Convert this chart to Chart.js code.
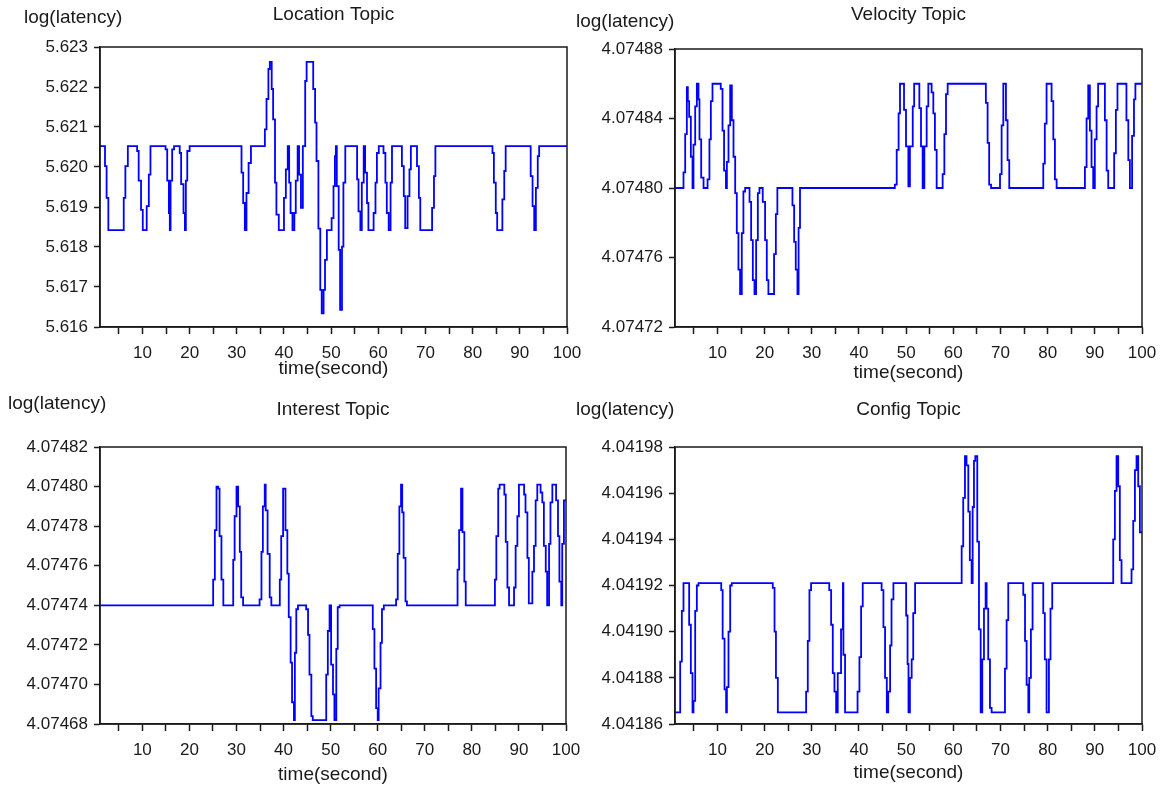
<!DOCTYPE html>
<html>
<head>
<meta charset="utf-8">
<title>log(latency) per topic</title>
<script src="https://cdn.jsdelivr.net/npm/chart.js@4.4.0/dist/chart.umd.min.js"></script>
<style>
  body { margin: 0; background: #fff; }
  #wrap { position: relative; width: 1163px; height: 788px; }
  canvas { position: absolute; }
</style>
</head>
<body>
<div id="wrap">
  <canvas id="location" width="581" height="394" style="left:0;top:0"></canvas>
  <canvas id="velocity" width="593" height="394" style="left:570px;top:0"></canvas>
  <canvas id="interest" width="581" height="394" style="left:0;top:394px"></canvas>
  <canvas id="config" width="593" height="394" style="left:570px;top:394px"></canvas>
</div>
<script>
// x axis ticks (labels only on multiples of 10)
const xTicks = [5, 10, 15, 20, 25, 30, 35, 40, 45, 50, 55, 60, 65, 70, 75, 80, 85, 90, 95, 100];

// Location topic
const locationTicks = [5.616, 5.617, 5.618, 5.619, 5.620, 5.621, 5.622, 5.623];
const locationTime = [
  1, 2.06, 2.4, 2.77, 6.03, 6.38, 6.9, 8.87, 9.2, 9.7,
  10.07, 10.9, 11.35, 11.7, 14.9, 15.25, 15.6, 15.8, 15.96, 16.3,
  16.7, 17.9, 18.2, 18.7, 19.0, 19.2, 19.5, 20.0, 31.0, 31.35,
  31.7, 32.05, 32.5, 33.0, 35.95, 36.3, 36.7, 37.0, 37.4, 37.7,
  38.1, 38.4, 38.9, 40.0, 40.4, 40.8, 41.1, 41.4, 41.8, 42.2,
  42.5, 42.9, 43.2, 43.6, 44.0, 44.5, 44.8, 46.2, 46.6, 46.9,
  47.3, 47.7, 48.0, 48.4, 48.7, 49.1, 50.1, 50.5, 50.8, 51.0,
  51.2, 51.6, 51.9, 52.3, 52.6, 53.0, 55.5, 55.8, 56.2, 56.5,
  56.9, 57.2, 57.6, 57.9, 59.0, 59.4, 59.7, 60.1, 61.1, 61.5,
  61.8, 62.2, 62.6, 62.9, 65.0, 65.4, 65.7, 66.2, 66.6, 66.9,
  68.2, 68.6, 68.9, 71.4, 71.8, 72.1, 84.2, 84.5, 84.9, 85.2,
  86.3, 86.7, 87.0, 92.3, 92.7, 93.05, 93.4, 93.8, 94.1, 100
];
const locationLatency = [
  5.62052, 5.62002, 5.61923, 5.61842, 5.61923, 5.62002, 5.62052, 5.62040, 5.61966, 5.61893,
  5.61842, 5.61902, 5.61981, 5.62052, 5.62044, 5.61966, 5.61885, 5.61842, 5.61966, 5.62044,
  5.62052, 5.62035, 5.61957, 5.61885, 5.61842, 5.61966, 5.62040, 5.62052, 5.61986, 5.61910,
  5.61842, 5.61935, 5.62010, 5.62052, 5.62094, 5.62170, 5.62245, 5.62263, 5.62195, 5.62119,
  5.61961, 5.61881, 5.61842, 5.61923, 5.61994, 5.62052, 5.61961, 5.61885, 5.61842, 5.61885,
  5.61966, 5.62052, 5.61981, 5.61898, 5.62052, 5.62215, 5.62263, 5.62195, 5.62111, 5.62015,
  5.61846, 5.61693, 5.61634, 5.61693, 5.61768, 5.61842, 5.61872, 5.61952, 5.62027, 5.62052,
  5.61952, 5.61793, 5.61643, 5.61801, 5.61961, 5.62052, 5.61969, 5.61889, 5.61842, 5.61961,
  5.62052, 5.61986, 5.61910, 5.61842, 5.61885, 5.61961, 5.62035, 5.62052, 5.62035, 5.61961,
  5.61885, 5.61842, 5.61961, 5.62052, 5.62002, 5.61927, 5.61847, 5.61927, 5.61994, 5.62052,
  5.62002, 5.61923, 5.61842, 5.61898, 5.61977, 5.62052, 5.62035, 5.61961, 5.61885, 5.61842,
  5.61919, 5.61990, 5.62052, 5.61977, 5.61902, 5.61842, 5.61948, 5.62027, 5.62052, 5.62052
];

// Velocity topic
const velocityTicks = [4.07472, 4.07476, 4.07480, 4.07484, 4.07488];
const velocityTime = [
  1, 2.8, 3.16, 3.51, 3.72, 4.0, 4.36, 4.71, 4.92, 5.28,
  5.63, 5.98, 6.19, 6.55, 7.05, 7.9, 8.3, 8.6, 8.95, 10.7,
  11.07, 11.4, 11.8, 12.0, 12.34, 12.7, 13.05, 13.4, 13.76, 14.1,
  14.45, 14.8, 15.16, 15.5, 15.87, 16.8, 17.14, 17.5, 17.85, 18.2,
  18.56, 18.9, 19.6, 20.1, 20.46, 20.8, 22.0, 22.38, 22.7, 25.9,
  26.26, 26.6, 26.96, 27.2, 27.5, 47.6, 48.0, 48.4, 48.7, 49.55,
  49.97, 50.47, 50.8, 51.4, 51.7, 52.8, 53.15, 53.5, 53.86, 54.35,
  54.7, 55.4, 55.76, 56.1, 56.47, 57.74, 58.1, 58.45, 58.8, 66.9,
  67.27, 67.6, 68.0, 69.9, 70.24, 70.6, 71.16, 71.5, 71.86, 79.07,
  79.4, 79.77, 80.83, 81.2, 81.54, 81.9, 87.9, 88.25, 88.6, 88.95,
  89.3, 89.66, 90.0, 90.37, 90.7, 92.13, 92.5, 92.84, 94.1, 94.46,
  94.8, 96.7, 97.1, 97.43, 97.9, 98.3, 98.6, 100
];
const velocityLatency = [
  4.074800, 4.074809, 4.074831, 4.074858, 4.074850, 4.074841, 4.074818, 4.074800, 4.074825, 4.074847,
  4.074860, 4.074851, 4.074828, 4.074806, 4.074800, 4.074805, 4.074828, 4.074850, 4.074860, 4.074857,
  4.074833, 4.074810, 4.074800, 4.074815, 4.074836, 4.074859, 4.074839, 4.074818, 4.074797, 4.074774,
  4.074753, 4.074739, 4.074774, 4.074798, 4.074800, 4.074792, 4.074770, 4.074747, 4.074739, 4.074770,
  4.074797, 4.074800, 4.074792, 4.074770, 4.074747, 4.074739, 4.074762, 4.074785, 4.074800, 4.074790,
  4.074769, 4.074753, 4.074739, 4.074777, 4.074800, 4.074802, 4.074822, 4.074843, 4.074860, 4.074845,
  4.074824, 4.074801, 4.074824, 4.074847, 4.074860, 4.074846, 4.074824, 4.074800, 4.074824, 4.074847,
  4.074860, 4.074855, 4.074843, 4.074822, 4.074800, 4.074808, 4.074831, 4.074854, 4.074860, 4.074849,
  4.074826, 4.074802, 4.074800, 4.074808, 4.074836, 4.074860, 4.074839, 4.074816, 4.074800, 4.074814,
  4.074837, 4.074860, 4.074850, 4.074828, 4.074805, 4.074800, 4.074812, 4.074840, 4.074859, 4.074833,
  4.074812, 4.074800, 4.074828, 4.074847, 4.074860, 4.074839, 4.074810, 4.074800, 4.074820, 4.074845,
  4.074860, 4.074839, 4.074816, 4.074800, 4.074830, 4.074851, 4.074860, 4.074860
];

// Interest topic
const interestTicks = [4.07468, 4.07470, 4.07472, 4.07474, 4.07476, 4.07478, 4.07480, 4.07482];
const interestTime = [
  1, 25.04, 25.4, 25.75, 26.1, 26.4, 26.8, 27.2, 29.3, 29.6,
  30.0, 30.35, 30.7, 31.0, 31.4, 34.9, 35.3, 35.6, 36.0, 36.2,
  36.6, 37.05, 37.4, 39.2, 39.5, 39.9, 40.4, 40.8, 41.1, 41.5,
  41.8, 42.2, 42.4, 42.7, 43.06, 44.8, 45.2, 45.5, 45.9, 46.2,
  49.06, 49.4, 49.77, 50.1, 50.5, 50.8, 51.2, 51.5, 51.9, 58.95,
  59.3, 59.66, 60.0, 60.2, 60.6, 60.9, 61.3, 63.9, 64.25, 64.6,
  64.95, 65.2, 65.5, 65.9, 66.2, 76.96, 77.3, 77.7, 78.0, 78.4,
  78.7, 84.9, 85.2, 85.6, 85.9, 86.9, 87.2, 87.55, 87.9, 88.96,
  89.3, 89.67, 90.0, 91.1, 91.4, 91.8, 92.1, 92.85, 93.2, 93.55,
  93.9, 94.6, 94.97, 95.3, 95.7, 96.0, 96.4, 96.7, 97.1, 97.9,
  98.3, 98.6, 99.0, 99.2, 99.56, 100
];
const interestLatency = [
  4.074740, 4.074753, 4.074778, 4.074800, 4.074799, 4.074775, 4.074753, 4.074740, 4.074763, 4.074785,
  4.074800, 4.074790, 4.074767, 4.074744, 4.074740, 4.074743, 4.074767, 4.074790, 4.074801, 4.074788,
  4.074766, 4.074744, 4.074740, 4.074753, 4.074775, 4.074799, 4.074778, 4.074756, 4.074734, 4.074711,
  4.074691, 4.074682, 4.074716, 4.074738, 4.074740, 4.074738, 4.074725, 4.074705, 4.074684, 4.074682,
  4.074705, 4.074727, 4.074740, 4.074710, 4.074695, 4.074682, 4.074718, 4.074739, 4.074740, 4.074728,
  4.074708, 4.074688, 4.074682, 4.074698, 4.074721, 4.074738, 4.074740, 4.074743, 4.074766, 4.074790,
  4.074801, 4.074787, 4.074764, 4.074742, 4.074740, 4.074758, 4.074778, 4.074799, 4.074777, 4.074752,
  4.074740, 4.074753, 4.074775, 4.074799, 4.074801, 4.074796, 4.074772, 4.074749, 4.074740, 4.074749,
  4.074770, 4.074785, 4.074801, 4.074796, 4.074787, 4.074764, 4.074741, 4.074757, 4.074770, 4.074793,
  4.074801, 4.074797, 4.074792, 4.074770, 4.074757, 4.074740, 4.074771, 4.074792, 4.074801, 4.074793,
  4.074775, 4.074752, 4.074740, 4.074771, 4.074793, 4.074793
];

// Config topic
const configTicks = [4.04186, 4.04188, 4.04190, 4.04192, 4.04194, 4.04196, 4.04198];
const configTime = [
  1, 2.1, 2.45, 2.8, 4.0, 4.36, 4.71, 4.92, 5.28, 5.63,
  5.98, 10.8, 11.1, 11.5, 11.84, 12.0, 12.34, 12.7, 13.04, 21.73,
  22.1, 22.4, 22.8, 28.8, 29.15, 29.5, 29.85, 33.7, 34.1, 34.45,
  34.8, 35.16, 35.5, 36.2, 36.6, 36.7, 37.05, 39.7, 40.1, 40.45,
  40.8, 44.8, 45.18, 45.53, 45.9, 46.2, 46.6, 46.9, 47.3, 50.0,
  50.3, 50.5, 50.8, 51.17, 51.5, 51.9, 61.77, 62.1, 62.47, 62.8,
  63.18, 63.5, 63.88, 64.1, 64.38, 64.66, 65.08, 65.44, 65.8, 66.14,
  66.5, 66.85, 67.06, 67.4, 67.77, 68.12, 70.95, 71.3, 71.65, 74.83,
  75.2, 75.54, 75.9, 76.1, 76.45, 76.8, 79.07, 79.4, 79.77, 80.27,
  80.6, 80.97, 93.9, 94.25, 94.6, 94.96, 95.3, 95.66, 97.78, 98.14,
  98.5, 98.84, 99.2, 99.55, 100
];
const configLatency = [
  4.041865, 4.041887, 4.041909, 4.041921, 4.041903, 4.041882, 4.041865, 4.041870, 4.041909, 4.041920,
  4.041921, 4.041918, 4.041897, 4.041875, 4.041865, 4.041876, 4.041900, 4.041920, 4.041921, 4.041919,
  4.041900, 4.041880, 4.041865, 4.041874, 4.041896, 4.041918, 4.041921, 4.041918, 4.041903, 4.041882,
  4.041874, 4.041865, 4.041882, 4.041901, 4.041921, 4.041890, 4.041865, 4.041874, 4.041889, 4.041911,
  4.041921, 4.041918, 4.041902, 4.041880, 4.041865, 4.041874, 4.041894, 4.041914, 4.041921, 4.041907,
  4.041886, 4.041865, 4.041880, 4.041888, 4.041908, 4.041921, 4.041937, 4.041958, 4.041976, 4.041972,
  4.041952, 4.041931, 4.041921, 4.041954, 4.041974, 4.041976, 4.041939, 4.041901, 4.041865, 4.041888,
  4.041910, 4.041921, 4.041910, 4.041888, 4.041867, 4.041865, 4.041884, 4.041905, 4.041921, 4.041916,
  4.041896, 4.041877, 4.041865, 4.041880, 4.041901, 4.041921, 4.041908, 4.041888, 4.041865, 4.041888,
  4.041910, 4.041921, 4.041940, 4.041961, 4.041976, 4.041963, 4.041931, 4.041921, 4.041927, 4.041948,
  4.041970, 4.041976, 4.041963, 4.041943, 4.041943
];

const FONT = '"Liberation Sans", Arial, sans-serif';
const INK = '#1a1a1a';

// box around the plot area, topic title and the y label at the top left
const panelFrame = {
  id: 'panelFrame',
  afterDraw(chart, args, o) {
    const { ctx, chartArea: a } = chart;
    ctx.save();
    ctx.strokeStyle = INK;
    ctx.lineWidth = 1.5;
    ctx.strokeRect(a.left, a.top, a.right - a.left, a.bottom - a.top);
    ctx.fillStyle = INK;
    ctx.font = '19px ' + FONT;
    ctx.textBaseline = 'middle';
    ctx.textAlign = 'center';
    ctx.fillText(o.title, (a.left + a.right) / 2, o.titleY);
    ctx.textAlign = 'left';
    ctx.fillText('log(latency)', o.labelX, o.labelY);
    ctx.restore();
  }
};

function drawPanel(id, times, values, yTicks, digits, g) {
  new Chart(document.getElementById(id), {
    type: 'line',
    data: {
      datasets: [{
        data: times.map((t, i) => ({ x: t, y: values[i] })),
        borderColor: '#0000ff',
        borderWidth: 1.8,
        pointRadius: 0,
        stepped: true,
        fill: false
      }]
    },
    options: {
      responsive: false,
      animation: false,
      events: [],
      layout: { padding: { top: g.top, right: g.right, left: 0, bottom: 0 } },
      plugins: {
        legend: { display: false },
        tooltip: { enabled: false },
        panelFrame: { title: g.title, titleY: g.titleY, labelX: g.labelX, labelY: g.labelY }
      },
      scales: {
        x: {
          type: 'linear',
          min: 1,
          max: 100,
          afterBuildTicks: s => { s.ticks = xTicks.map(v => ({ value: v })); },
          afterFit: s => { s.height = g.xHeight; s.paddingLeft = 0; s.paddingRight = 0; },
          ticks: {
            autoSkip: false, maxRotation: 0, padding: 9, color: INK,
            font: { family: FONT, size: 17 },
            callback: v => (v % 10 === 0 ? String(v) : '')
          },
          grid: { drawOnChartArea: false, tickLength: 7, tickColor: INK, tickWidth: 1.5 },
          border: { color: INK, width: 1.5 },
          title: {
            display: true, text: 'time(second)', color: INK,
            font: { family: FONT, size: 19 },
            padding: { top: 0, bottom: g.xTitlePad }
          }
        },
        y: {
          min: yTicks[0],
          max: yTicks[yTicks.length - 1],
          afterBuildTicks: s => { s.ticks = yTicks.map(v => ({ value: v })); },
          afterFit: s => { s.width = g.yWidth; s.paddingTop = 0; s.paddingBottom = 0; },
          ticks: {
            padding: 6, color: INK,
            font: { family: FONT, size: 17 },
            callback: v => v.toFixed(digits)
          },
          grid: { drawOnChartArea: false, tickLength: 6, tickColor: INK, tickWidth: 1.5 },
          border: { color: INK, width: 1.5 }
        }
      }
    },
    plugins: [panelFrame]
  });
}

drawPanel('location', locationTime, locationLatency, locationTicks, 3,
  { title: 'Location Topic', titleY: 15, labelX: 24, labelY: 18, top: 47, right: 14, yWidth: 100, xHeight: 67, xTitlePad: 13.6 });
drawPanel('velocity', velocityTime, velocityLatency, velocityTicks, 5,
  { title: 'Velocity Topic', titleY: 15, labelX: 6, labelY: 22, top: 49, right: 21, yWidth: 105, xHeight: 67, xTitlePad: 9.6 });
drawPanel('interest', interestTime, interestLatency, interestTicks, 5,
  { title: 'Interest Topic', titleY: 16, labelX: 8, labelY: 10, top: 53, right: 15, yWidth: 100, xHeight: 64, xTitlePad: 1.6 });
drawPanel('config', configTime, configLatency, configTicks, 5,
  { title: 'Config Topic', titleY: 16, labelX: 6, labelY: 16, top: 53, right: 21, yWidth: 105, xHeight: 64, xTitlePad: 3.6 });
</script>
</body>
</html>
